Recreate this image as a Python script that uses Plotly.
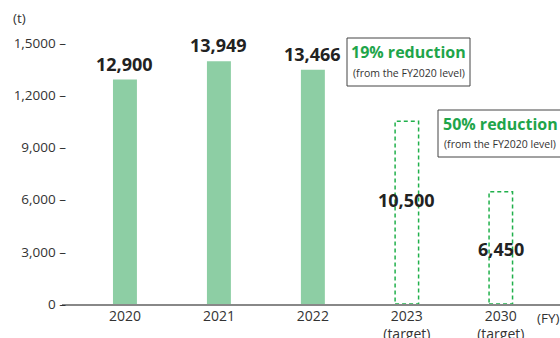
import plotly.graph_objects as go

categories = ["2020", "2021", "2022", "2023<br>(target)", "2030<br>(target)"]
actual_values = [12900, 13949, 13466, None, None]
target_values = [None, None, None, 10500, 6450]
value_labels = ["12,900", "13,949", "13,466", "10,500", "6,450"]
tick_vals = [0, 3000, 6000, 9000, 12000, 15000]
tick_text = ["0", "3,000", "6,000", "9,000", "1,2000", "1,5000"]
box_titles = ["19% reduction", "50% reduction"]
box_note = "(from the FY2020 level)"

GREEN_BAR = "#8dcea4"
GREEN_DASH = "#20b04b"
GREEN_TEXT = "#1ea54a"
FONT = "Open Sans"

W, H = 560, 338
layout_margin = dict(l=62, r=0, t=30, b=34, autoexpand=False)
pw = W - layout_margin["l"] - layout_margin["r"]
ph = H - layout_margin["t"] - layout_margin["b"]


def px2paper(px, py):
    return (px - layout_margin["l"]) / pw, (H - layout_margin["b"] - py) / ph


x = list(range(len(categories)))
fig = go.Figure()
fig.add_trace(go.Bar(
    x=[i for i, v in zip(x, actual_values) if v is not None],
    y=[v for v in actual_values if v is not None],
    width=0.255, marker=dict(color=GREEN_BAR, line=dict(width=0)),
    hoverinfo="skip",
))

shapes = []
annotations = []
bw = 0.125
for i, v in zip(x, target_values):
    if v is None:
        continue
    shapes.append(dict(type="rect", xref="x", yref="y", x0=i - bw, x1=i + bw, y0=0, y1=v,
                       line=dict(color=GREEN_DASH, width=1.5, dash="4px,3px"),
                       fillcolor="rgba(0,0,0,0)", layer="above"))

for i in x:
    if actual_values[i] is not None:
        annotations.append(dict(x=i, y=actual_values[i], xref="x", yref="y", text=value_labels[i],
                                showarrow=False, xanchor="center", yanchor="bottom", yshift=2,
                                font=dict(family=FONT, size=18, color="#222222", weight="bold")))
    else:
        shift = -65 if i == 3 else -43
        annotations.append(dict(x=i, y=target_values[i], xref="x", yref="y", text=value_labels[i],
                                showarrow=False, xanchor="center", yanchor="top", yshift=shift,
                                font=dict(family=FONT, size=18, color="#222222", weight="bold")))

box_px = [(347, 470, 38, 86), (438, 562, 110, 157)]
for title, (bx0, bx1, by0, by1) in zip(box_titles, box_px):
    x0, y0 = px2paper(bx0, by1)
    x1, y1 = px2paper(bx1, by0)
    shapes.append(dict(type="rect", xref="paper", yref="paper", x0=x0, x1=x1, y0=y0, y1=y1,
                       line=dict(color="#444444", width=1), fillcolor="white", layer="above"))
    cx = (x0 + x1) / 2
    annotations.append(dict(x=cx, y=y1, xref="paper", yref="paper", xanchor="center",
                            yanchor="top", yshift=-1,
                            text=title, showarrow=False,
                            font=dict(family=FONT, size=16, color=GREEN_TEXT, weight="bold")))
    annotations.append(dict(x=cx, y=y0, xref="paper", yref="paper", xanchor="center",
                            yanchor="bottom", yshift=4,
                            text=box_note, showarrow=False,
                            font=dict(family=FONT, size=10.5, color="#333333")))

tx, ty = px2paper(19, 18)
annotations.append(dict(x=tx, y=ty, xref="paper", yref="paper", text="(t)", showarrow=False,
                        xanchor="center", yanchor="middle",
                        font=dict(family=FONT, size=13.5, color="#333333")))
fx, fy = px2paper(548, 318)
annotations.append(dict(x=fx, y=fy, xref="paper", yref="paper", text="(FY)", showarrow=False,
                        xanchor="center", yanchor="middle",
                        font=dict(family=FONT, size=13.5, color="#333333")))

fig.update_layout(
    width=W, height=H, margin=layout_margin,
    plot_bgcolor="white", paper_bgcolor="white", showlegend=False,
    shapes=shapes, annotations=annotations,
    font=dict(family=FONT, size=12, color="#333333"),
    xaxis=dict(range=[-0.67, 4.63], tickvals=x, ticktext=categories, showgrid=False,
               zeroline=False, showline=True, linecolor="#888888", linewidth=2,
               ticks="", tickfont=dict(size=14, color="#333333"), fixedrange=True,
               automargin=False, ticklabelstandoff=-2),
    yaxis=dict(range=[0, 15000 * ph / 261], tickvals=tick_vals,
               ticktext=[t + " –" for t in tick_text], showgrid=False, zeroline=False,
               showline=False, ticks="", ticklabelstandoff=-5,
               tickfont=dict(size=13.5, color="#333333"), fixedrange=True, automargin=False),
)

fig.write_html("out.html", config={"displayModeBar": False},
               post_script="document.body.style.margin='0';document.body.style.overflow='hidden';")
